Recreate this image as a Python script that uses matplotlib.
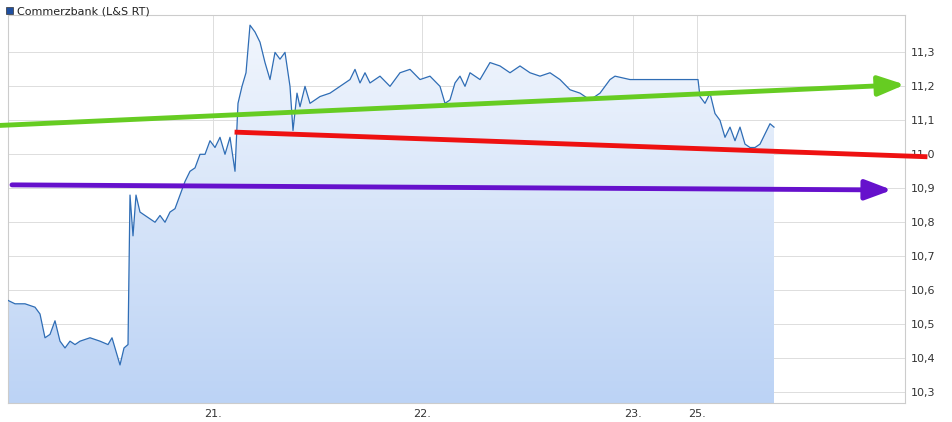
import numpy as np
import matplotlib
matplotlib.use("Agg")
import matplotlib.pyplot as plt
from matplotlib.patches import Polygon

# time index (intraday steps) and prices
t = [8,15,25,35,40,45,50,55,60,65,70,75,80,90,100,108,112,116,120,124,128,130,133,136,140,145,150,155,160,165,170,175,180,185,190,195,200,205,210,215,220,225,230,235,238,242,246,250,255,260,265,270,275,280,285,290,293,297,300,305,310,315,320,330,340,350,355,360,365,370,380,390,400,410,420,430,440,445,450,455,460,465,470,480,490,500,510,520,530,540,550,560,570,580,590,600,610,615,630,660,690,698,700,705,710,715,720,725,730,735,740,745,750,755,760,765,770,774]
price = [10.57,10.56,10.56,10.55,10.53,10.46,10.47,10.51,10.45,10.43,10.45,10.44,10.45,10.46,10.45,10.44,10.46,10.42,10.38,10.43,10.44,10.88,10.76,10.88,10.83,10.82,10.81,10.80,10.82,10.80,10.83,10.84,10.88,10.92,10.95,10.96,11.00,11.00,11.04,11.02,11.05,11.00,11.05,10.95,11.15,11.20,11.24,11.38,11.36,11.33,11.27,11.22,11.30,11.28,11.30,11.20,11.07,11.18,11.14,11.20,11.15,11.16,11.17,11.18,11.20,11.22,11.25,11.21,11.24,11.21,11.23,11.20,11.24,11.25,11.22,11.23,11.20,11.15,11.16,11.21,11.23,11.20,11.24,11.22,11.27,11.26,11.24,11.26,11.24,11.23,11.24,11.22,11.19,11.18,11.16,11.18,11.22,11.23,11.22,11.22,11.22,11.22,11.17,11.15,11.18,11.12,11.10,11.05,11.08,11.04,11.08,11.03,11.02,11.02,11.03,11.06,11.09,11.08]
xtick_pos = [213, 422, 633, 697]
xtick_labels = ["21.", "22.", "23.", "25."]
ytick_vals = [10.3,10.4,10.5,10.6,10.7,10.8,10.9,11.0,11.1,11.2,11.3]
green_line = [(0, 11.085), (905, 11.205)]
red_line = [(237, 11.065), (925, 10.993)]
purple_line = [(12, 10.91), (892, 10.895)]

fig = plt.figure(figsize=(9.52, 4.22), dpi=100)
ax = fig.add_axes([8/952, 19/422, 897/952, 388/422])
ylo, yhi = 10.268, 11.41
ax.set_xlim(8, 905); ax.set_ylim(ylo, yhi)

grad = np.linspace(0, 1, 256).reshape(-1, 1)
from matplotlib.colors import LinearSegmentedColormap
cm = LinearSegmentedColormap.from_list("g", ["#bcd3f5", "#f3f7fd"])
im = ax.imshow(grad, extent=[8, 905, ylo, yhi], origin="lower", aspect="auto", cmap=cm, zorder=1)
poly = Polygon(list(zip(t, price)) + [(t[-1], ylo), (t[0], ylo)], closed=True, transform=ax.transData, facecolor="none", edgecolor="none")
ax.add_patch(poly)
im.set_clip_path(poly)
ax.plot(t, price, color="#2f6db5", lw=0.9, zorder=3)

ax.set_xticks(xtick_pos); ax.set_xticklabels(xtick_labels)
ax.set_yticks(ytick_vals); ax.set_yticklabels([f"{v:.1f}".replace(".", ",") for v in ytick_vals])
ax.yaxis.tick_right()
ax.tick_params(labelsize=8, length=0, colors="#333333", pad=4)
ax.grid(True, color="#dddddd", lw=0.7, zorder=0)
ax.set_axisbelow(True)
for s in ax.spines.values():
    s.set_color("#cccccc")

def arrow(pts, color, head):
    (x0, y0), (x1, y1) = pts
    if head:
        ax.annotate("", xy=(x1, y1), xytext=(x0, y0), annotation_clip=False,
                    arrowprops=dict(arrowstyle="-|>,head_length=1.6,head_width=0.6", color=color, lw=3.5, shrinkA=0, shrinkB=0), zorder=5)
    else:
        l = ax.plot([x0, x1], [y0, y1], color=color, lw=3.5, zorder=5)[0]
        l.set_clip_on(False)

arrow(green_line, "#66cc22", True)
arrow(red_line, "#ee1111", False)
arrow(purple_line, "#6611cc", True)

fig.patches.append(matplotlib.patches.Rectangle((6/952, 408/422), 7/952, 7/422, transform=fig.transFigure, facecolor="#1f4fa0", edgecolor="#333333", lw=0.5))
fig.text(17/952, 411/422, "Commerzbank (L&S RT)", fontsize=8, va="center", color="#222222")
fig.savefig("out.png", dpi=100)
